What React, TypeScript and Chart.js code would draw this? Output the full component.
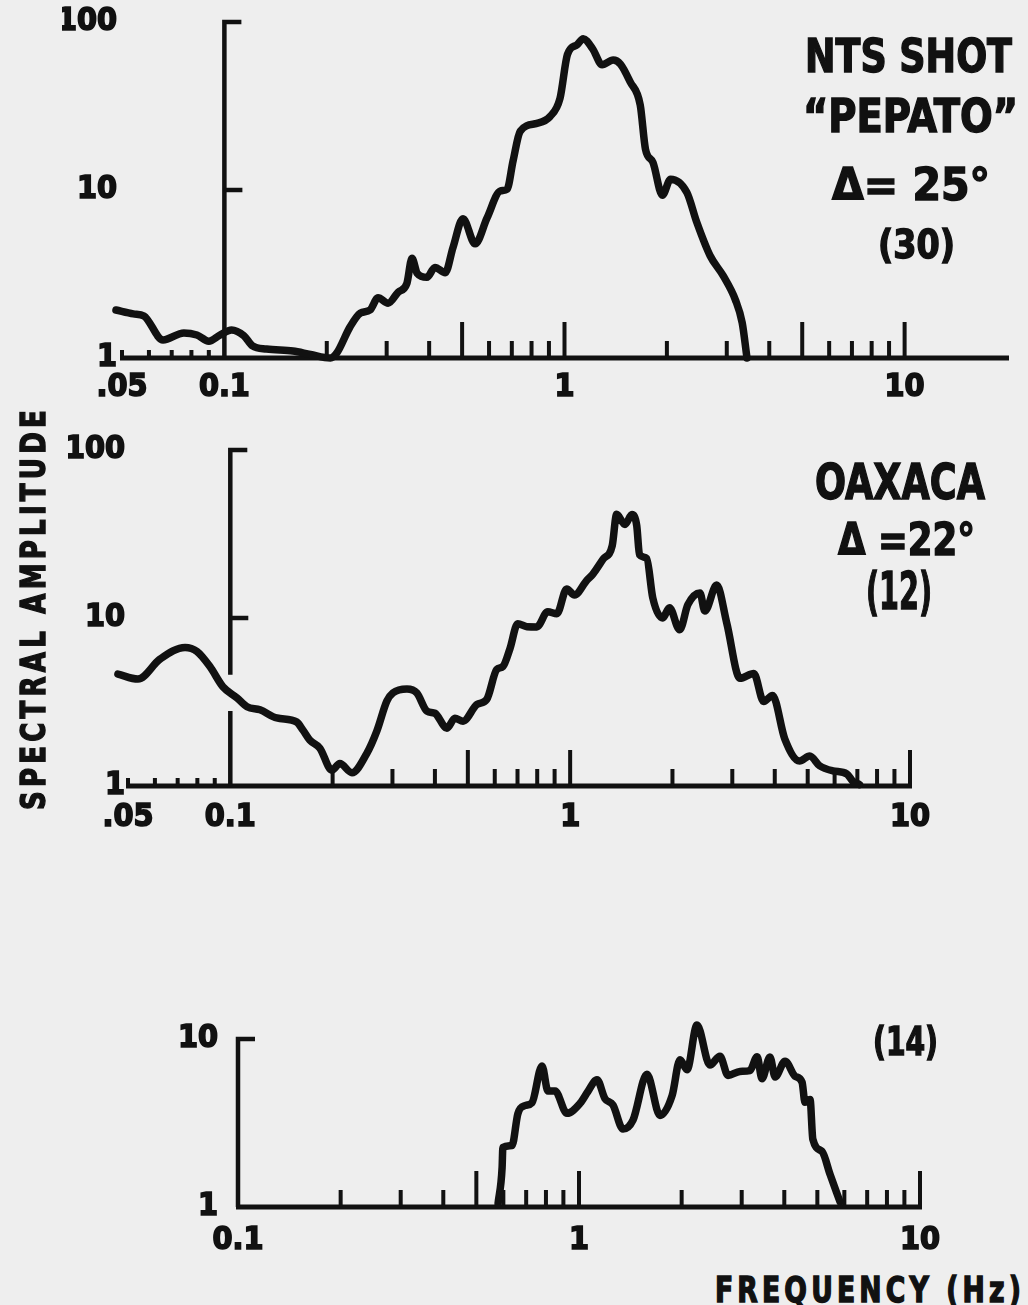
import React, { useEffect, useRef } from "react";
import { Chart, registerables } from "chart.js";

Chart.register(...registerables);

const INK = "#111111";
const PAPER = "#eeeeee";
const FONT = "'DejaVu Sans Condensed', 'DejaVu Sans', sans-serif";

// ---------- Panel 1: NTS shot "PEPATO" ----------
const pepatoFreq = [
  0.048, 0.054, 0.058, 0.066, 0.076, 0.083, 0.09, 0.097, 0.105, 0.114, 0.121, 0.133,
  0.159, 0.179, 0.205, 0.214, 0.234, 0.251, 0.268, 0.283, 0.303, 0.324, 0.344, 0.356,
  0.369, 0.394, 0.416, 0.446, 0.47, 0.503, 0.546, 0.592, 0.647, 0.678, 0.706, 0.741,
  0.83, 0.907, 0.97, 1.02, 1.09, 1.135, 1.21, 1.29, 1.39, 1.46, 1.56, 1.67, 1.73,
  1.82, 1.94, 2.05, 2.29, 2.45, 2.68, 2.93, 3.18, 3.33, 3.44,
];
const pepatoAmp = [
  1.93, 1.83, 1.78, 1.28, 1.41, 1.37, 1.26, 1.37, 1.47, 1.36, 1.18, 1.13,
  1.1, 1.05, 1.0, 1.07, 1.53, 1.85, 1.93, 2.28, 2.12, 2.46, 2.78, 3.92,
  3.19, 3.02, 3.46, 3.22, 4.54, 6.75, 4.78, 6.82, 9.86, 10.1, 14.9, 22.4,
  24.9, 27.4, 35.1, 64, 73.4, 79.5, 69.2, 55.6, 59.4, 56.2, 44, 32, 17.5,
  14.6, 9.3, 11.6, 9.67, 6.4, 4.06, 3.08, 2.22, 1.62, 1.0,
];

// ---------- Panel 2: OAXACA ----------
const oaxacaFreq = [
  0.0467, 0.0535, 0.0621, 0.0736, 0.0798, 0.0871, 0.0951, 0.1046, 0.112, 0.1223,
  0.137, 0.157, 0.1636, 0.1715, 0.1835, 0.199, 0.21, 0.228, 0.252, 0.27,
  0.289, 0.301, 0.331, 0.354, 0.379, 0.4, 0.434, 0.458, 0.484, 0.532,
  0.568, 0.608, 0.634, 0.665, 0.701, 0.746, 0.798, 0.859, 0.914, 0.977,
  1.03, 1.12, 1.165, 1.25, 1.33, 1.37, 1.45, 1.52, 1.57, 1.6,
  1.68, 1.75, 1.87, 1.96, 2.1, 2.22, 2.41, 2.49, 2.7, 2.89,
  3.16, 3.47, 3.71, 3.94, 4.28, 4.73, 5.07, 5.42, 5.93, 6.52, 6.78, 7.1,
];
const oaxacaAmp = [
  4.64, 4.33, 5.69, 6.68, 6.32, 5.14, 3.9, 3.35, 2.96, 2.84,
  2.54, 2.4, 2.15, 1.87, 1.68, 1.24, 1.36, 1.2, 1.56, 2.13,
  3.21, 3.58, 3.78, 3.58, 2.79, 2.71, 2.21, 2.53, 2.43, 3.06,
  3.27, 4.93, 5.14, 6.57, 9.25, 8.87, 8.85, 10.9, 10.6, 14.9,
  13.7, 16.8, 18.2, 22.4, 27, 41.4, 36, 41.3, 35.5, 23.8,
  22.6, 13.2, 10, 11.5, 8.5, 12, 14.1, 11, 15.7, 9.31,
  4.38, 4.68, 3.18, 3.46, 1.91, 1.41, 1.51, 1.32, 1.23, 1.18, 1.07, 1.02,
];

// ---------- Panel 3: (14) ----------
const panel3Freq = [
  0.579, 0.595, 0.598, 0.636, 0.662, 0.694, 0.728, 0.779, 0.811, 0.851,
  0.922, 1.007, 1.062, 1.129, 1.192, 1.258, 1.346, 1.44, 1.582, 1.728,
  1.875, 1.978, 2.074, 2.218, 2.42, 2.59, 2.735, 2.965, 3.17, 3.33,
  3.44, 3.63, 3.76, 4.02, 4.3, 4.51, 4.6, 4.76, 4.85, 5.16, 5.45, 5.83,
];
const panel3Amp = [
  1.05, 1.72, 2.26, 2.32, 3.6, 4.01, 4.17, 6.91, 4.9, 4.9,
  3.61, 4.14, 4.87, 5.73, 4.41, 4.05, 2.91, 3.29, 6.17, 3.51,
  4.6, 7.53, 6.56, 12.1, 7.0, 7.89, 6.07, 6.41, 6.48, 7.85,
  5.8, 7.82, 5.94, 7.38, 6.01, 5.53, 4.2, 4.37, 2.53, 2.14, 1.56, 1.07,
];

// ---------- axis tick values ----------
const lowTicks = [0.05, 0.06, 0.07, 0.08, 0.09];
const midTicksP1 = [0.2, 0.3, 0.4, 0.6, 0.7, 0.8, 0.9, 2, 3, 4, 6, 7, 8, 9];
const majorTicksP1 = [0.5, 1, 5, 10];
const midTicksP23 = [0.2, 0.3, 0.4, 0.6, 0.7, 0.8, 0.9, 2, 3, 4, 5, 6, 7, 8, 9];
const majorTicksP23 = [0.5, 1, 10];
const xLabelsP12 = [0.05, 0.1, 1, 10];
const xLabelsP3 = [0.1, 1, 10];
const yLabelsP12 = [1, 10, 100];
const yLabelsP3 = [1, 10];

const fmtX = (v: number) => (v === 0.05 ? ".05" : v === 0.1 ? "0.1" : String(v));

const paperAxes = {
  id: "paperAxes",
  beforeDatasetsDraw(chart: any, _args: any, opts: any) {
    const xs = chart.scales.x;
    const ys = chart.scales.y;
    const ctx = chart.ctx;
    ctx.save();
    ctx.strokeStyle = INK;
    ctx.lineCap = "butt";
    const y0 = ys.getPixelForValue(1);
    // horizontal axis
    ctx.lineWidth = 5;
    ctx.beginPath();
    ctx.moveTo(xs.getPixelForValue(opts.xFrom) - 2, y0);
    ctx.lineTo(xs.getPixelForValue(opts.xTo) + 2, y0);
    ctx.stroke();
    // upward ticks
    ctx.lineWidth = 4;
    const ticks = (vals: number[], len: number) => {
      ctx.beginPath();
      for (const v of vals) {
        const x = xs.getPixelForValue(v);
        ctx.moveTo(x, y0);
        ctx.lineTo(x, y0 - len);
      }
      ctx.stroke();
    };
    ticks(opts.low || [], 8);
    ticks(opts.mid || [], 17);
    ticks(opts.major || [], 36);
    // vertical axis at 0.1 Hz
    const xa = xs.getPixelForValue(opts.yAxisAt);
    const top = ys.getPixelForValue(opts.yTop);
    ctx.lineWidth = 4.5;
    ctx.lineJoin = "miter";
    ctx.beginPath();
    ctx.moveTo(xa + 17, top);
    ctx.lineTo(xa, top);
    if (opts.yBreak) {
      ctx.lineTo(xa, ys.getPixelForValue(opts.yBreak[1]));
      ctx.moveTo(xa, ys.getPixelForValue(opts.yBreak[0]));
    }
    ctx.lineTo(xa, y0);
    ctx.stroke();
    ctx.beginPath();
    for (const v of opts.yTicks || []) {
      const y = ys.getPixelForValue(v);
      ctx.moveTo(xa, y);
      ctx.lineTo(xa + 18, y);
    }
    ctx.stroke();
    ctx.restore();
  },
};

type PanelCfg = {
  canvasTop: number;
  canvasHeight: number;
  freq: number[];
  amp: number[];
  xMin: number;
  xMax: number;
  yMax: number;
  xLabels: number[];
  yLabels: number[];
  pad: { left: number; right: number; top: number; bottom: number };
  xPad: number;
  yPad: number;
  axes: any;
};

function Panel({ cfg }: { cfg: PanelCfg }) {
  const ref = useRef<HTMLCanvasElement>(null);
  useEffect(() => {
    if (!ref.current) return;
    const tickFont = { family: FONT, size: 32, weight: "bold" as const };
    const chart = new Chart(ref.current, {
      type: "line",
      data: {
        datasets: [
          {
            data: cfg.freq.map((f, i) => ({ x: f, y: cfg.amp[i] })),
            borderColor: INK,
            borderWidth: 7.5,
            pointRadius: 0,
            fill: false,
            cubicInterpolationMode: "monotone",
            borderJoinStyle: "round",
            borderCapStyle: "round",
            clip: false as any,
          },
        ],
      },
      plugins: [paperAxes as any],
      options: {
        responsive: false,
        animation: false,
        devicePixelRatio: 1,
        layout: { padding: cfg.pad },
        plugins: {
          legend: { display: false },
          tooltip: { enabled: false },
          paperAxes: cfg.axes,
        } as any,
        scales: {
          x: {
            type: "logarithmic",
            min: cfg.xMin,
            max: cfg.xMax,
            grid: { display: false, drawTicks: false },
            border: { display: false },
            ticks: {
              font: tickFont,
              color: INK,
              textStrokeColor: INK,
              textStrokeWidth: 1.6,
              padding: cfg.xPad,
              autoSkip: false,
              maxRotation: 0,
              minRotation: 0,
              callback: (v: any) => fmtX(Number(v)),
            },
            afterBuildTicks: (s: any) => {
              s.ticks = cfg.xLabels.map((v) => ({ value: v }));
            },
            afterFit: (s: any) => {
              s.height = 50;
              s.paddingLeft = 0;
              s.paddingRight = 0;
            },
          },
          y: {
            type: "logarithmic",
            min: 1,
            max: cfg.yMax,
            grid: { display: false, drawTicks: false },
            border: { display: false },
            ticks: {
              font: tickFont,
              color: INK,
              textStrokeColor: INK,
              textStrokeWidth: 1.6,
              padding: cfg.yPad,
              autoSkip: false,
              callback: (v: any) => String(Number(v)),
            },
            afterBuildTicks: (s: any) => {
              s.ticks = cfg.yLabels.map((v) => ({ value: v }));
            },
            afterFit: (s: any) => {
              s.width = 60;
              s.paddingTop = 0;
              s.paddingBottom = 0;
            },
          },
        },
      } as any,
    });
    return () => chart.destroy();
  }, [cfg]);
  return (
    <canvas
      ref={ref}
      width={1028}
      height={cfg.canvasHeight}
      style={{ position: "absolute", left: 0, top: cfg.canvasTop, width: 1028, height: cfg.canvasHeight }}
    />
  );
}

const panel1: PanelCfg = {
  canvasTop: 0,
  canvasHeight: 420,
  freq: pepatoFreq,
  amp: pepatoAmp,
  xMin: 0.05,
  xMax: 20,
  yMax: 100,
  xLabels: xLabelsP12,
  yLabels: yLabelsP12,
  pad: { left: 62, right: 21, top: 22, bottom: 12 },
  xPad: 10,
  yPad: 5,
  axes: { xFrom: 0.05, xTo: 20, yAxisAt: 0.1, yTop: 100, yTicks: [10], low: lowTicks, mid: midTicksP1, major: majorTicksP1 },
};
const panel2: PanelCfg = {
  canvasTop: 420,
  canvasHeight: 420,
  freq: oaxacaFreq,
  amp: oaxacaAmp,
  xMin: 0.05,
  xMax: 10,
  yMax: 100,
  xLabels: xLabelsP12,
  yLabels: yLabelsP12,
  pad: { left: 68, right: 118, top: 30, bottom: 4 },
  xPad: 12,
  yPad: 3,
  axes: { xFrom: 0.05, xTo: 10, yAxisAt: 0.1, yTop: 100, yTicks: [10], yBreak: [2.8, 4.6], low: lowTicks, mid: midTicksP23, major: majorTicksP23 },
};
const panel3: PanelCfg = {
  canvasTop: 1000,
  canvasHeight: 260,
  freq: panel3Freq,
  amp: panel3Amp,
  xMin: 0.1,
  xMax: 10,
  yMax: 10,
  xLabels: xLabelsP3,
  yLabels: yLabelsP3,
  pad: { left: 178, right: 108, top: 39, bottom: 3 },
  xPad: 14,
  yPad: 20,
  axes: { xFrom: 0.1, xTo: 10, yAxisAt: 0.1, yTop: 10, yTicks: [], low: [], mid: midTicksP23, major: majorTicksP23 },
};

let measureCtx: CanvasRenderingContext2D | null = null;
function measure(text: string, size: number, spacing = 0) {
  if (!measureCtx) measureCtx = document.createElement("canvas").getContext("2d");
  measureCtx!.font = `bold ${size}px ${FONT}`;
  return measureCtx!.measureText(text).width + spacing * text.length;
}

const heavy = { WebkitTextStroke: `1.4px ${INK}` } as React.CSSProperties;

function Label({ text, left, right, capTop, capBottom, spacing = 0 }: { text: string; left: number; right: number; capTop: number; capBottom: number; spacing?: number }) {
  const size = (capBottom - capTop) / 0.729;
  const sx = (right - left) / measure(text, size, spacing);
  return (
    <div
      style={{
        position: "absolute",
        left,
        top: capTop - 0.117 * size,
        fontSize: size,
        lineHeight: 1,
        fontFamily: FONT,
        fontWeight: 700,
        whiteSpace: "pre",
        letterSpacing: spacing,
        color: INK,
        transform: `scaleX(${sx})`,
        transformOrigin: "0 0",
        ...heavy,
      }}
    >
      {text}
    </div>
  );
}

function VLabel({ text, capLeft, capRight, bottom, topEnd, spacing = 0 }: { text: string; capLeft: number; capRight: number; bottom: number; topEnd: number; spacing?: number }) {
  const size = (capRight - capLeft) / 0.729;
  const sx = (bottom - topEnd) / measure(text, size, spacing);
  return (
    <div
      style={{
        position: "absolute",
        left: capLeft - 0.117 * size,
        top: bottom,
        fontSize: size,
        lineHeight: 1,
        fontFamily: FONT,
        fontWeight: 700,
        whiteSpace: "pre",
        letterSpacing: spacing,
        color: INK,
        transform: `rotate(-90deg) scaleX(${sx})`,
        transformOrigin: "0 0",
        ...heavy,
      }}
    >
      {text}
    </div>
  );
}

export default function App() {
  return (
    <div style={{ position: "absolute", left: 0, top: 0, width: 1028, height: 1305, background: PAPER, overflow: "hidden" }}>
      <Panel cfg={panel1} />
      <Panel cfg={panel2} />
      <Panel cfg={panel3} />
      <Label text="NTS SHOT" left={805} right={1012} capTop={38} capBottom={72} />
      <Label text={"\u201CPEPATO\u201D"} left={803} right={1018} capTop={98} capBottom={132} />
      <Label text={"\u0394= 25\u00B0"} left={832} right={990} capTop={168} capBottom={200} />
      <Label text="(30)" left={878} right={955} capTop={230} capBottom={259} />
      <Label text="OAXACA" left={815} right={985} capTop={464} capBottom={500} />
      <Label text={"\u0394 =22\u00B0"} left={838} right={975} capTop={523} capBottom={555} />
      <Label text="(12)" left={866} right={932} capTop={573} capBottom={610} />
      <Label text="(14)" left={873} right={938} capTop={1027} capBottom={1055} />
      <Label text="FREQUENCY (Hz)" left={715} right={1025} capTop={1276} capBottom={1302} spacing={5} />
      <VLabel text="SPECTRAL AMPLITUDE" capLeft={20} capRight={45} bottom={810} topEnd={406} spacing={5} />
    </div>
  );
}
